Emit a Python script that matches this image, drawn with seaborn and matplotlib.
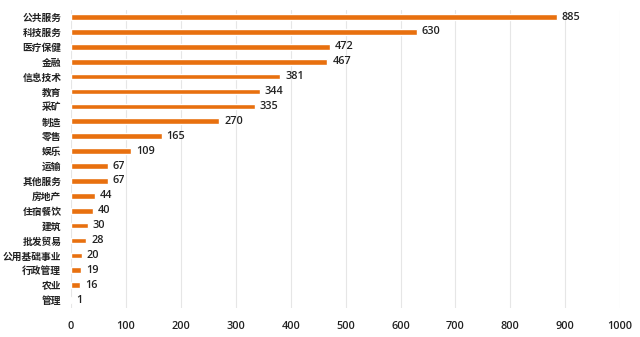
import matplotlib
matplotlib.use("Agg")
import matplotlib.pyplot as plt
import seaborn as sns
import pandas as pd

categories = ["公共服务", "科技服务", "医疗保健", "金融", "信息技术", "教育", "采矿", "制造",
              "零售", "娱乐", "运输", "其他服务", "房地产", "住宿餐饮", "建筑", "批发贸易",
              "公用基础事业", "行政管理", "农业", "管理"]
values = [885, 630, 472, 467, 381, 344, 335, 270, 165, 109, 67, 67, 44, 40, 30, 28, 20, 19, 16, 1]
x_ticks = [0, 100, 200, 300, 400, 500, 600, 700, 800, 900, 1000]

sns.set_theme(style="white")
plt.rcParams["font.family"] = ["Noto Sans CJK SC", "DejaVu Sans"]

df = pd.DataFrame({"category": categories, "value": values})

fig = plt.figure(figsize=(6.4, 3.37), dpi=100)
ax = fig.add_axes([0.111, 0.0875, 0.858, 0.884])

sns.barplot(data=df, y="category", x="value", orient="h", color="#E8700F",
            width=0.38, saturation=1, ax=ax, zorder=3)

ax.set_xlim(0, 1000)
ax.set_ylim(len(categories) - 0.5, -0.5)
ax.set_xticks(x_ticks)
ax.set_xticklabels([str(t) for t in x_ticks], fontsize=7.8, fontweight="semibold",
                   color="#222222", family=["Open Sans", "DejaVu Sans"])
ax.tick_params(axis="y", labelsize=7, colors="#222222", length=0, pad=7)
ax.tick_params(axis="x", length=0, pad=10)
for lbl in ax.get_yticklabels():
    lbl.set_fontweight("bold")
ax.set_xlabel("")
ax.set_ylabel("")
ax.grid(axis="x", color="#E6E6E6", linewidth=0.8, zorder=0)
for s in ax.spines.values():
    s.set_visible(False)

for i, v in enumerate(values):
    ax.text(v + 9, i, str(v), va="center", ha="left", fontsize=7.8,
            family=["Open Sans", "DejaVu Sans"], fontweight="semibold", color="#222222")

fig.savefig("out.png", dpi=100, facecolor="white")
